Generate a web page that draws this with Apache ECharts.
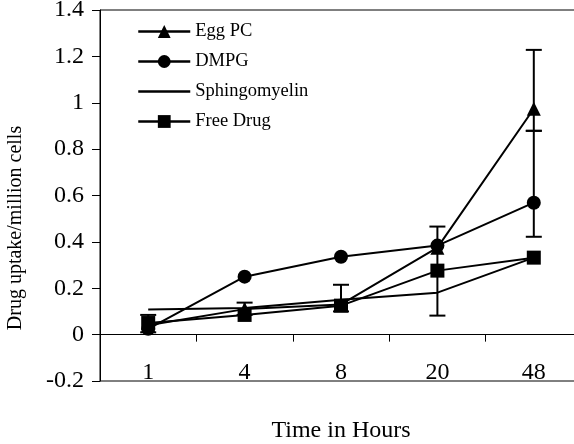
<!DOCTYPE html>
<html>
<head>
<meta charset="utf-8">
<script src="https://cdn.jsdelivr.net/npm/echarts@6/dist/echarts.min.js"></script>
<style>html,body{margin:0;padding:0;background:#fff}#c{width:574px;height:444px}</style>
</head>
<body>
<div id="c"></div>
<script>
// categories (hours)
const categories = ['1', '4', '8', '20', '48'];
// series values
const eggPC = [0.04, 0.11, 0.13, 0.375, 0.974];
const dmpg = [0.025, 0.25, 0.336, 0.384, 0.569];
const sphingomyelin = [0.108, 0.115, 0.15, 0.181, 0.332];
const freeDrug = [0.05, 0.085, 0.125, 0.276, 0.332];
// error bars: [category index, low, high]
const errorBars = [
  [0, 0.01, 0.085],
  [1, 0.085, 0.138],
  [2, 0.10, 0.215],
  [3, 0.082, 0.466],
  [4, 0.879, 1.228],
  [4, 0.422, 0.879]
];
const yTicks = {min: -0.2, max: 1.4, interval: 0.2};

const FONT = 'Liberation Serif';
const chart = echarts.init(document.getElementById('c'), null, {renderer: 'canvas'});

function lineSeries(name, data, symbol, showSymbol) {
  return {
    name: name, type: 'line', data: data,
    symbol: symbol, symbolSize: 14, showSymbol: showSymbol,
    lineStyle: {color: '#000', width: 2},
    itemStyle: {color: '#000'},
    emphasis: {disabled: true},
    animation: false, z: 3
  };
}

chart.setOption({
  animation: false,
  grid: {left: 100, top: 10, right: -8, bottom: 63, show: true, borderColor: '#000', borderWidth: 1,
         containLabel: false, outerBoundsMode: 'none'},
  legend: {
    orient: 'vertical', left: 137, top: 22, padding: 0,
    itemWidth: 52, itemHeight: 16, itemGap: 11,
    lineStyle: {color: '#000', width: 2.5},
    textStyle: {fontFamily: FONT, fontSize: 18.5, color: '#000'},
    data: [
      'Egg PC', 'DMPG',
      {name: 'Sphingomyelin', itemStyle: {color: 'rgba(0,0,0,0)', borderWidth: 0},
       lineStyle: {color: '#000', width: 2.5}},
      'Free Drug'
    ]
  },
  xAxis: {
    type: 'category', data: categories, boundaryGap: true,
    axisLine: {onZero: true, lineStyle: {color: '#000', width: 1}},
    axisTick: {show: true, length: 7, inside: false, lineStyle: {color: '#000'}},
    axisLabel: {margin: -20, fontFamily: FONT, fontSize: 24, color: '#000'},
    name: 'Time in Hours', nameLocation: 'middle', nameGap: 38,
    nameTextStyle: {fontFamily: FONT, fontSize: 24, color: '#000'},
    splitLine: {show: false}
  },
  yAxis: {
    type: 'value', min: yTicks.min, max: yTicks.max, interval: yTicks.interval,
    axisLine: {show: true, lineStyle: {color: '#000', width: 1}},
    axisTick: {show: true, length: 8, lineStyle: {color: '#000'}},
    axisLabel: {margin: 16, fontFamily: FONT, fontSize: 24, color: '#000'},
    splitLine: {show: false}
  },
  graphic: [{
    type: 'text', x: 16, y: 228, rotation: Math.PI / 2,
    style: {text: 'Drug uptake/million cells', fontFamily: FONT, fontSize: 20, fill: '#000',
            align: 'center', verticalAlign: 'middle'}
  }],
  series: [
    {
      type: 'custom', name: 'err', data: errorBars, z: 2, silent: true,
      renderItem: function (params, api) {
        const x = api.value(0);
        const lo = api.coord([x, api.value(1)]);
        const hi = api.coord([x, api.value(2)]);
        const w = 8;
        const st = {stroke: '#000', lineWidth: 2};
        return {type: 'group', children: [
          {type: 'line', shape: {x1: lo[0], y1: lo[1], x2: hi[0], y2: hi[1]}, style: st},
          {type: 'line', shape: {x1: lo[0] - w, y1: lo[1], x2: lo[0] + w, y2: lo[1]}, style: st},
          {type: 'line', shape: {x1: hi[0] - w, y1: hi[1], x2: hi[0] + w, y2: hi[1]}, style: st}
        ]};
      }
    },
    lineSeries('Egg PC', eggPC, 'triangle', true),
    lineSeries('DMPG', dmpg, 'circle', true),
    lineSeries('Sphingomyelin', sphingomyelin, 'circle', false),
    lineSeries('Free Drug', freeDrug, 'rect', true)
  ]
});
</script>
</body>
</html>
